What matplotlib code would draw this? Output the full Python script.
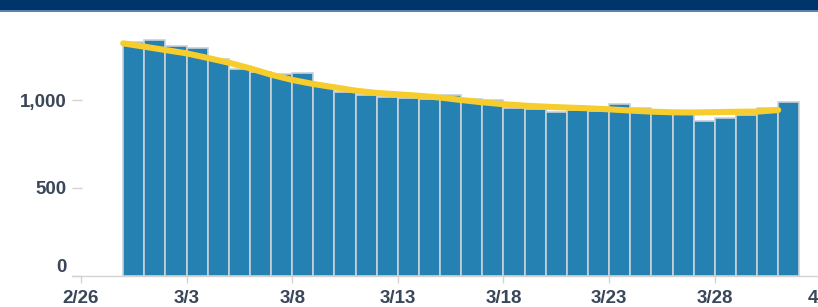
import matplotlib
matplotlib.use("Agg")
import matplotlib.pyplot as plt
import matplotlib.dates as mdates
import matplotlib.transforms as mtransforms
from matplotlib.patches import Rectangle
from matplotlib.ticker import FuncFormatter
import pandas as pd

# daily values, 2/28 .. 3/31
days = pd.date_range("2021-02-28", "2021-03-31", freq="D")
counts = [1330, 1341, 1309, 1297, 1231, 1176, 1161, 1148, 1152, 1085,
          1043, 1028, 1019, 1010, 1003, 1027, 1006, 998, 957, 949,
          932, 941, 938, 979, 953, 926, 920, 878, 898, 915,
          953, 987]
# smoothed average, drawn at the start of each day
avg = [1322, 1303, 1284, 1265, 1239, 1212, 1180, 1144, 1114, 1091,
       1072, 1053, 1040, 1032, 1024, 1014, 1000, 987, 976, 968,
       962, 957, 953, 947, 940, 934, 930, 929, 931, 933,
       934, 943]

tick_days = pd.date_range("2021-02-26", "2021-04-02", freq="5D")
y_ticks = [0, 500, 1000]

W, H = 818, 307
TEXT = "#3a4659"
plt.rcParams["font.family"] = ["Liberation Sans", "DejaVu Sans"]

fig = plt.figure(figsize=(W / 100, H / 100), dpi=100)

# navy band at the top
fig.add_artist(Rectangle((0, 1 - 9.5 / H), 1, 9.5 / H, transform=fig.transFigure,
                         color="#00356b", lw=0))
fig.add_artist(Rectangle((0, 1 - 11.5 / H), 1, 2 / H, transform=fig.transFigure,
                         color="#5a82b0", lw=0))

# axes placed in pixel terms
left, top, right, bottom = 72, 20.8, 830, 276
ax = fig.add_axes([left / W, 1 - bottom / H, (right - left) / W, (bottom - top) / H])

x = mdates.date2num(days)
ax.bar(x, counts, width=1, align="edge", color="#2581b1", edgecolor="#c9d1d9",
       linewidth=1.2, zorder=2)
ax.plot(x, avg, color="#f6cd2c", lw=4.4, solid_capstyle="round",
        solid_joinstyle="round", zorder=3)

x0 = mdates.date2num(pd.Timestamp("2021-02-26"))
per_day = 21.13
ax.set_xlim(x0 - (80.9 - left) / per_day, x0 + (right - 80.9) / per_day)
ax.set_ylim(0, 1450)

for s in ["top", "right", "left"]:
    ax.spines[s].set_visible(False)
ax.spines["bottom"].set_color("#d3d3d3")
ax.spines["bottom"].set_linewidth(1)

ax.set_xticks(mdates.date2num(tick_days))
ax.xaxis.set_major_formatter(FuncFormatter(
    lambda v, p: f"{mdates.num2date(v).month}/{mdates.num2date(v).day}"))
ax.set_yticks(y_ticks)
ax.yaxis.set_major_formatter(FuncFormatter(lambda v, p: f"{int(v):,}"))

ax.tick_params(axis="x", length=5, width=1, color="#d3d3d3", pad=5,
               labelsize=13.5, labelcolor=TEXT)
ax.tick_params(axis="y", direction="in", length=7, width=1, color="#d3d3d3", pad=3.6,
               labelsize=13.5, labelcolor=TEXT)
for lab in ax.get_xticklabels() + ax.get_yticklabels():
    lab.set_fontweight("bold")

# lift the zero label above the baseline
zero = ax.get_yticklabels()[0]
zero.set_transform(zero.get_transform() + mtransforms.ScaledTranslation(0, 11 / 100, fig.dpi_scale_trans))

fig.savefig("out.png", dpi=100)
